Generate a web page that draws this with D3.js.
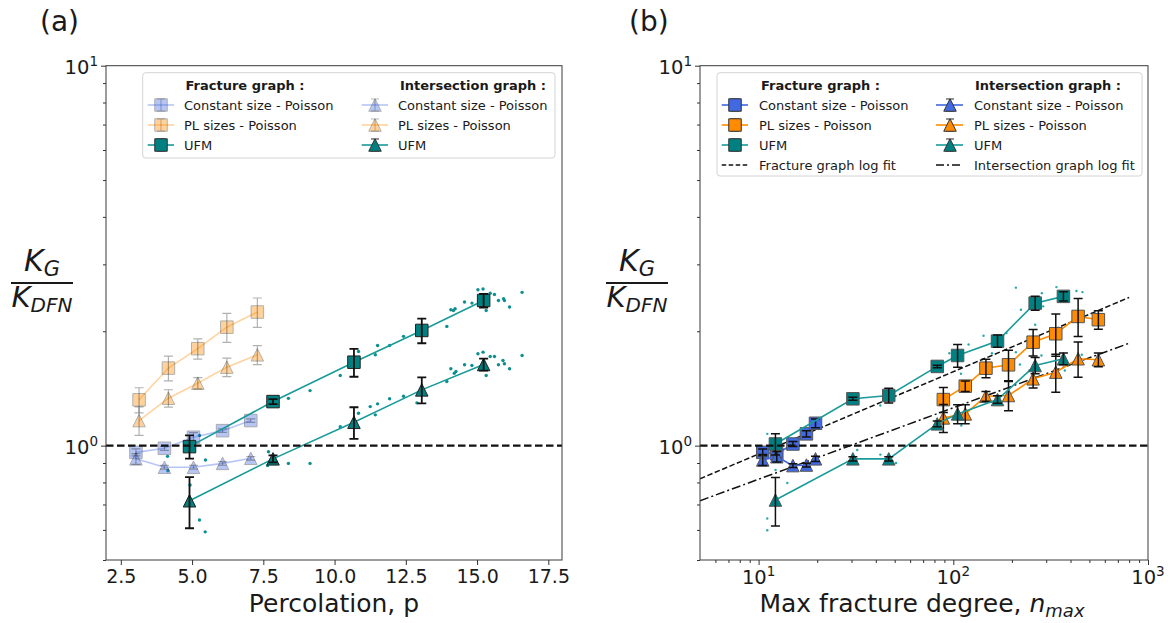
<!DOCTYPE html>
<html><head><meta charset="utf-8">
<script src="https://cdn.jsdelivr.net/npm/d3@7"></script>
<style>
body{margin:0;background:#fff}
svg{display:block}
text{font-family:"DejaVu Sans",sans-serif;fill:#1a1a1a}
</style>
</head><body>
<script>
// ---------------- Panel (a) data : percolation p ----------------
const pCS  = [3.03, 4.03, 5.05, 6.07, 7.06];
const kFracCS_a = [0.96, 0.984, 1.052, 1.095, 1.164];
const eFracCS_a = [0.02, 0.012, 0.03, 0.012, 0.012];
const kIntCS_a  = [0.923, 0.877, 0.877, 0.898, 0.926];
const eIntCS_a  = [0.03, 0.01, 0.01, 0.01, 0.01];

const pPL  = [3.14, 4.17, 5.2, 6.22, 7.29];
const kFracPL_a = [1.32, 1.6, 1.8, 2.05, 2.247];
const eFracPL_a = [0.1, 0.12, 0.11, 0.18, 0.2];
const kIntPL_a  = [1.164, 1.333, 1.46, 1.609, 1.734];
const eIntPL_a  = [0.1, 0.07, 0.05, 0.09, 0.1];

const pUFM = [4.91, 7.84, 10.68, 13.06, 15.23];
const kFracUFM_a = [0.994, 1.306, 1.658, 2.01, 2.41];
const eFracUFM_a = [0.07, 0.02, 0.14, 0.15, 0.1];
const kIntUFM_a  = [0.716, 0.923, 1.152, 1.402, 1.635];
const eIntUFM_a  = [0.11, 0.02, 0.11, 0.11, 0.06];

// individual UFM realisations (small dots)
const dotsP_a = [5.26,4.14,4.15,5.47,8.38,9.14,10.20,8.38,9.14,7.68,7.65,4.93,5.26,5.46,
  10.84,11.51,11.43,11.93,12.42,13.94,14.08,14.17,14.23,14.56,14.82,15.03,15.21,15.46,15.61,15.75,15.93,15.96,16.14,15.32,16.58,
  10.20,10.84,11.25,11.43,11.51,11.93,12.42,12.89,13.94,14.08,14.20,14.26,14.56,14.82,15.03,15.21,15.46,15.61,15.75,15.91,15.96,16.14,15.32,16.58];
const dotsK_a = [1.063,0.937,0.859,0.917,1.332,1.396,1.53,0.898,0.898,0.964,0.886,0.788,0.637,0.593,
  1.769,1.835,1.734,1.835,1.939,2.06,2.279,2.269,2.293,2.387,2.372,2.573,2.583,2.52,2.50,2.41,2.436,2.41,2.316,2.269,2.532,
  1.122,1.217,1.267,1.205,1.288,1.328,1.349,1.296,1.475,1.593,1.551,1.567,1.632,1.625,1.745,1.762,1.717,1.717,1.632,1.675,1.642,1.593,1.53,1.727];

// ---------------- Panel (b) data : max fracture degree ----------------
const nCS  = [10.5, 12.4, 15.0, 17.6, 19.6];
const kFracCS_b = [0.96, 0.951, 1.01, 1.074, 1.145];
const eFracCS_b = [0.02, 0.02, 0.015, 0.02, 0.03];
const kIntCS_b  = [0.917, 0.935, 0.886, 0.889, 0.923];
const eIntCS_b  = [0.03, 0.03, 0.01, 0.01, 0.015];

const nPL  = [88.9, 115.2, 147.1, 192.1, 257, 336, 437.5, 556];
const kFracPL_b = [1.322, 1.434, 1.599, 1.632, 1.872, 1.97, 2.188, 2.145];
const eFracPL_b = [0.1, 0.045, 0.09, 0.15, 0.15, 0.25, 0.25, 0.12];
const kIntPL_b  = [1.183, 1.212, 1.349, 1.355, 1.499, 1.561, 1.693, 1.683];
const eIntPL_b  = [0.1, 0.07, 0.04, 0.12, 0.08, 0.18, 0.18, 0.07];

const nUFM = [12.2, 30.5, 46.6, 82.7, 105.2, 168.7, 263.3, 367.8];
const kFracUFM_b = [1.01, 1.328, 1.355, 1.616, 1.727, 1.884, 2.372, 2.471];
const eFracUFM_b = [0.065, 0.012, 0.06, 0.012, 0.12, 0.07, 0.1, 0.07];
const kIntUFM_b  = [0.719, 0.923, 0.923, 1.141, 1.212, 1.322, 1.625, 1.693];
const eIntUFM_b  = [0.105, 0.012, 0.012, 0.02, 0.07, 0.03, 0.08, 0.06];

const dotsN_b = [11.08,14.14,12.22,14.04,11.08,11.08,42.2,42.2,50.8,32.1,95.4,119.8,143,209.6,222.4,285,289.3,338.6,428.8,460.3,187.6,157.9,209.6,263.3,109.9,109.5,283.6,373.9,457,219.8];
const dotsK_b = [1.074,1.052,0.863,0.797,0.643,0.599,1.275,0.947,0.9,0.974,1.751,1.846,1.947,2.605,2.279,2.52,2.326,2.614,2.552,2.536,1.978,1.751,1.762,2.081,1.129,1.546,1.727,1.577,1.734,1.635];

// log fits (end points)
const fitN = [5, 800];
const fitFracK = [0.818, 2.455];
const fitIntK  = [0.716, 1.86];

// ticks
const xTicksA = [2.5, 5.0, 7.5, 10.0, 12.5, 15.0, 17.5];
const yMajor = [1, 10];
const yMajorExp = ["0", "1"];
const yMinor = [0.5,0.6,0.7,0.8,0.9,2,3,4,5,6,7,8,9];
const xMajorB = [10, 100, 1000];
const xMajorBExp = ["1", "2", "3"];
const xMinorB = [6,7,8,9,20,30,40,50,60,70,80,90,200,300,400,500,600,700,800,900];

// ---------------- drawing ----------------
const BLUE = "#4169e1", ORANGE = "#ff8c00", TEAL = "#008080", TEAL_LINE = "#1a9a9a";
const MS = 12.5;
const W = 1170, H = 623;
const svg = d3.select("body").append("svg").attr("width", W).attr("height", H);

function markerPath(shape, s) {
  const h = s / 2;
  if (shape === "sq") return `M${-h},${-h}H${h}V${h}H${-h}Z`;
  return `M0,${-h}L${h},${h}L${-h},${h}Z`;
}

function makePanel(id, box, x) {
  const y = d3.scaleLog().domain([0.5, 10]).range([box.bottom, box.top]);
  const g = svg.append("g");
  svg.append("clipPath").attr("id", "clip" + id).append("rect")
    .attr("x", box.left).attr("y", box.top).attr("width", box.right - box.left).attr("height", box.bottom - box.top);
  const plot = g.append("g").attr("clip-path", `url(#clip${id})`);
  return {g, plot, x, y, box};
}

function drawSeries(P, xs, ks, es, o) {
  const pts = xs.map((v, i) => [v, ks[i], es[i]]);
  const alpha = o.alpha == null ? 1 : o.alpha;
  P.plot.append("path").datum(pts)
    .attr("d", d3.line().x(d => P.x(d[0])).y(d => P.y(d[1])))
    .attr("fill", "none").attr("stroke", o.line).attr("stroke-width", 1.6).attr("opacity", alpha);
  P.plot.append("g").selectAll("path").data(pts).join("path")
    .attr("transform", d => `translate(${P.x(d[0])},${P.y(d[1])})`)
    .attr("d", markerPath(o.shape, MS))
    .attr("fill", o.fill).attr("stroke", o.edge).attr("stroke-width", 1).attr("opacity", alpha);
  const eg = P.plot.append("g").attr("stroke", o.err).attr("stroke-width", o.errW)
    .attr("opacity", o.errAlpha == null ? 1 : o.errAlpha).attr("fill", "none");
  eg.selectAll("path").data(pts).join("path")
    .attr("d", d => {
      const X = P.x(d[0]), y0 = P.y(d[1] - d[2]), y1 = P.y(d[1] + d[2]), c = 4.5;
      return `M${X},${y0}V${y1}M${X - c},${y0}H${X + c}M${X - c},${y1}H${X + c}`;
    });
}

function drawDots(P, xs, ks, r, col) {
  P.plot.append("g").selectAll("circle").data(xs.map((v, i) => [v, ks[i]])).join("circle")
    .attr("cx", d => P.x(d[0])).attr("cy", d => P.y(d[1])).attr("r", r).attr("fill", col);
}

function unityLine(P) {
  P.plot.append("line").attr("x1", P.box.left).attr("x2", P.box.right)
    .attr("y1", P.y(1)).attr("y2", P.y(1))
    .attr("stroke", "#111").attr("stroke-width", 2.2).attr("stroke-dasharray", "7.5,3.5");
}

function styleAxis(sel) {
  sel.select(".domain").remove();
  sel.selectAll(".tick line").attr("stroke", "#333").attr("stroke-width", 1);
  sel.selectAll(".tick text").attr("font-size", 19).attr("font-family", "DejaVu Sans").attr("fill", "#1a1a1a");
}

function yAxes(P) {
  const b = P.box;
  const a1 = P.g.append("g").attr("transform", `translate(${b.left},0)`)
    .call(d3.axisLeft(P.y).tickValues(yMajor).tickSize(5).tickFormat(""));
  styleAxis(a1);
  const a2 = P.g.append("g").attr("transform", `translate(${b.left},0)`)
    .call(d3.axisLeft(P.y).tickValues(yMinor).tickSize(3).tickFormat(""));
  styleAxis(a2);
  yMajor.forEach((v, i) => {
    const t = P.g.append("text").attr("x", b.left - 8).attr("y", P.y(v) + 8)
      .attr("text-anchor", "end").attr("font-size", 19.5);
    t.append("tspan").text("10");
    t.append("tspan").attr("dy", -8).attr("font-size", 13.5).text(yMajorExp[i]);
  });
}

function frame(P) {
  const b = P.box;
  P.g.append("rect").attr("x", b.left).attr("y", b.top).attr("width", b.right - b.left)
    .attr("height", b.bottom - b.top).attr("fill", "none").attr("stroke", "#3a3a3a").attr("stroke-width", 1);
}

function fracLabel(cx) {
  const g = svg.append("g");
  const t1 = g.append("text").attr("x", cx).attr("y", 271).attr("text-anchor", "middle")
    .attr("font-size", 30).attr("font-style", "italic");
  t1.append("tspan").text("K");
  t1.append("tspan").attr("font-size", 21).attr("dy", 5).text("G");
  g.append("line").attr("x1", cx - 31).attr("x2", cx + 31).attr("y1", 283).attr("y2", 283)
    .attr("stroke", "#1a1a1a").attr("stroke-width", 1.8);
  const t2 = g.append("text").attr("x", cx).attr("y", 307).attr("text-anchor", "middle")
    .attr("font-size", 29).attr("font-style", "italic");
  t2.append("tspan").text("K");
  t2.append("tspan").attr("font-size", 20).attr("dy", 5).text("DFN");
}

function legend(box, cols, rows, entries, titles) {
  const g = svg.append("g");
  g.append("rect").attr("x", box.x0).attr("y", box.y0).attr("width", box.x1 - box.x0)
    .attr("height", box.y1 - box.y0).attr("rx", 3).attr("fill", "#fff").attr("fill-opacity", 0.85)
    .attr("stroke", "#d4d4d4").attr("stroke-width", 1);
  titles.forEach((t, i) => {
    g.append("text").attr("x", cols[i].title).attr("y", rows[0] + 4.5).attr("font-size", 13)
      .attr("font-weight", "bold").text(t);
  });
  entries.forEach(e => {
    const c = cols[e.col], yy = rows[e.row];
    const alpha = e.alpha == null ? 1 : e.alpha;
    if (e.dash) {
      g.append("line").attr("x1", c.h0).attr("x2", c.h1).attr("y1", yy).attr("y2", yy)
        .attr("stroke", "#111").attr("stroke-width", 1.5).attr("stroke-dasharray", e.dash);
    } else {
      g.append("line").attr("x1", c.h0).attr("x2", c.h1).attr("y1", yy).attr("y2", yy)
        .attr("stroke", e.line).attr("stroke-width", 1.6).attr("opacity", alpha);
      g.append("path").attr("d", `M${c.m},${yy - 6}V${yy + 6}M${c.m - 4},${yy - 6}H${c.m + 4}M${c.m - 4},${yy + 6}H${c.m + 4}`)
        .attr("stroke", "#111").attr("stroke-width", 1.2).attr("fill", "none").attr("opacity", e.errAlpha == null ? 0.9 : e.errAlpha);
      g.append("path").attr("transform", `translate(${c.m},${yy})`).attr("d", markerPath(e.shape, MS))
        .attr("fill", e.fill).attr("stroke", "#333").attr("stroke-width", 1).attr("opacity", alpha);
    }
    g.append("text").attr("x", c.t).attr("y", yy + 4.5).attr("font-size", 13).text(e.label);
  });
}

// ======== Panel (a) ========
const boxA = {left: 106, right: 562, top: 65.7, bottom: 560};
const xA = d3.scaleLinear().domain([1.98, 17.98]).range([boxA.left, boxA.right]);
const PA = makePanel("a", boxA, xA);

drawDots(PA, dotsP_a, dotsK_a, 1.7, "#0e8f8f");
const fadeA = 0.38;
drawSeries(PA, pCS, kFracCS_a, eFracCS_a, {shape: "sq", line: BLUE, fill: BLUE, edge: "#223", alpha: fadeA, err: "#000", errW: 1.2, errAlpha: 0.3});
drawSeries(PA, pCS, kIntCS_a, eIntCS_a, {shape: "tri", line: BLUE, fill: BLUE, edge: "#223", alpha: fadeA, err: "#000", errW: 1.2, errAlpha: 0.3});
drawSeries(PA, pPL, kFracPL_a, eFracPL_a, {shape: "sq", line: ORANGE, fill: ORANGE, edge: "#332", alpha: fadeA, err: "#000", errW: 1.2, errAlpha: 0.3});
drawSeries(PA, pPL, kIntPL_a, eIntPL_a, {shape: "tri", line: ORANGE, fill: ORANGE, edge: "#332", alpha: fadeA, err: "#000", errW: 1.2, errAlpha: 0.3});
drawSeries(PA, pUFM, kFracUFM_a, eFracUFM_a, {shape: "sq", line: TEAL_LINE, fill: TEAL, edge: "#222", err: "#111", errW: 1.8});
drawSeries(PA, pUFM, kIntUFM_a, eIntUFM_a, {shape: "tri", line: TEAL_LINE, fill: TEAL, edge: "#222", err: "#111", errW: 1.8});
unityLine(PA);
frame(PA);
const axA = PA.g.append("g").attr("transform", `translate(0,${boxA.bottom})`)
  .call(d3.axisBottom(xA).tickValues(xTicksA).tickFormat(d3.format(".1f")).tickSize(5).tickPadding(5));
styleAxis(axA);
yAxes(PA);

// ======== Panel (b) ========
const boxB = {left: 700, right: 1148, top: 65.7, bottom: 560};
const xB = d3.scaleLog().domain([5, 1000]).range([boxB.left, boxB.right]);
const PB = makePanel("b", boxB, xB);

drawDots(PB, dotsN_b, dotsK_b, 1.2, "#2aa8a8");
const fitLine = d3.line().x(d => xB(d[0])).y(d => PB.y(d[1]));
PB.plot.append("path").datum(fitN.map((n, i) => [n, fitFracK[i]])).attr("d", fitLine)
  .attr("fill", "none").attr("stroke", "#111").attr("stroke-width", 1.5).attr("stroke-dasharray", "5.5,2.5");
PB.plot.append("path").datum(fitN.map((n, i) => [n, fitIntK[i]])).attr("d", fitLine)
  .attr("fill", "none").attr("stroke", "#111").attr("stroke-width", 1.5).attr("stroke-dasharray", "9,3,2,3");
drawSeries(PB, nCS, kFracCS_b, eFracCS_b, {shape: "sq", line: BLUE, fill: BLUE, edge: "#555", err: "#111", errW: 1.5});
drawSeries(PB, nCS, kIntCS_b, eIntCS_b, {shape: "tri", line: BLUE, fill: BLUE, edge: "#555", err: "#111", errW: 1.5});
drawSeries(PB, nPL, kFracPL_b, eFracPL_b, {shape: "sq", line: ORANGE, fill: ORANGE, edge: "#555", err: "#111", errW: 1.5});
drawSeries(PB, nPL, kIntPL_b, eIntPL_b, {shape: "tri", line: ORANGE, fill: ORANGE, edge: "#555", err: "#111", errW: 1.5});
drawSeries(PB, nUFM, kFracUFM_b, eFracUFM_b, {shape: "sq", line: TEAL_LINE, fill: TEAL, edge: "#555", err: "#111", errW: 1.5});
drawSeries(PB, nUFM, kIntUFM_b, eIntUFM_b, {shape: "tri", line: TEAL_LINE, fill: TEAL, edge: "#555", err: "#111", errW: 1.5});
unityLine(PB);
frame(PB);
const axB1 = PB.g.append("g").attr("transform", `translate(0,${boxB.bottom})`)
  .call(d3.axisBottom(xB).tickValues(xMajorB).tickSize(5).tickFormat(""));
styleAxis(axB1);
const axB2 = PB.g.append("g").attr("transform", `translate(0,${boxB.bottom})`)
  .call(d3.axisBottom(xB).tickValues(xMinorB).tickSize(3).tickFormat(""));
styleAxis(axB2);
xMajorB.forEach((v, i) => {
  const t = PB.g.append("text").attr("x", xB(v)).attr("y", 584).attr("text-anchor", "middle").attr("font-size", 19.5);
  t.append("tspan").text("10");
  t.append("tspan").attr("dy", -8).attr("font-size", 13.5).text(xMajorBExp[i]);
});
yAxes(PB);

// ======== labels ========
svg.append("text").attr("x", 334).attr("y", 612).attr("text-anchor", "middle").attr("font-size", 25).text("Percolation, p");
const xl = svg.append("text").attr("x", 922).attr("y", 612).attr("text-anchor", "middle").attr("font-size", 25);
xl.append("tspan").text("Max fracture degree, ");
xl.append("tspan").attr("font-style", "italic").text("n");
xl.append("tspan").attr("font-style", "italic").attr("font-size", 18).attr("dy", 5).text("max");
fracLabel(42);
fracLabel(637);
svg.append("text").attr("x", 40).attr("y", 31).attr("font-size", 28).attr("font-family", "Liberation Sans").text("(a)");
svg.append("text").attr("x", 629).attr("y", 31).attr("font-size", 28).attr("font-family", "Liberation Sans").text("(b)");

// ======== legends ========
legend({x0: 142.7, y0: 72.7, x1: 555, y1: 158},
  [{h0: 147.7, h1: 174, m: 161, t: 184, title: 185.5}, {h0: 361.7, h1: 388, m: 375, t: 398, title: 400}],
  [85, 105, 125, 145],
  [
    {col: 0, row: 1, label: "Constant size - Poisson", shape: "sq", line: BLUE, fill: BLUE, alpha: fadeA, errAlpha: 0.3},
    {col: 0, row: 2, label: "PL sizes - Poisson", shape: "sq", line: ORANGE, fill: ORANGE, alpha: fadeA, errAlpha: 0.3},
    {col: 0, row: 3, label: "UFM", shape: "sq", line: TEAL_LINE, fill: TEAL},
    {col: 1, row: 1, label: "Constant size - Poisson", shape: "tri", line: BLUE, fill: BLUE, alpha: fadeA, errAlpha: 0.3},
    {col: 1, row: 2, label: "PL sizes - Poisson", shape: "tri", line: ORANGE, fill: ORANGE, alpha: fadeA, errAlpha: 0.3},
    {col: 1, row: 3, label: "UFM", shape: "tri", line: TEAL_LINE, fill: TEAL}
  ],
  ["Fracture graph :", "Intersection graph :"]);

legend({x0: 717, y0: 72.7, x1: 1142, y1: 176},
  [{h0: 721.7, h1: 748, m: 735, t: 759, title: 761}, {h0: 936, h1: 963, m: 950, t: 974, title: 975}],
  [85, 105, 125, 145, 165],
  [
    {col: 0, row: 1, label: "Constant size - Poisson", shape: "sq", line: BLUE, fill: BLUE},
    {col: 0, row: 2, label: "PL sizes - Poisson", shape: "sq", line: ORANGE, fill: ORANGE},
    {col: 0, row: 3, label: "UFM", shape: "sq", line: TEAL_LINE, fill: TEAL},
    {col: 0, row: 4, label: "Fracture graph log fit", dash: "4.5,2.5"},
    {col: 1, row: 1, label: "Constant size - Poisson", shape: "tri", line: BLUE, fill: BLUE},
    {col: 1, row: 2, label: "PL sizes - Poisson", shape: "tri", line: ORANGE, fill: ORANGE},
    {col: 1, row: 3, label: "UFM", shape: "tri", line: TEAL_LINE, fill: TEAL},
    {col: 1, row: 4, label: "Intersection graph log fit", dash: "8,3,2,3"}
  ],
  ["Fracture graph :", "Intersection graph :"]);
</script>
</body></html>
